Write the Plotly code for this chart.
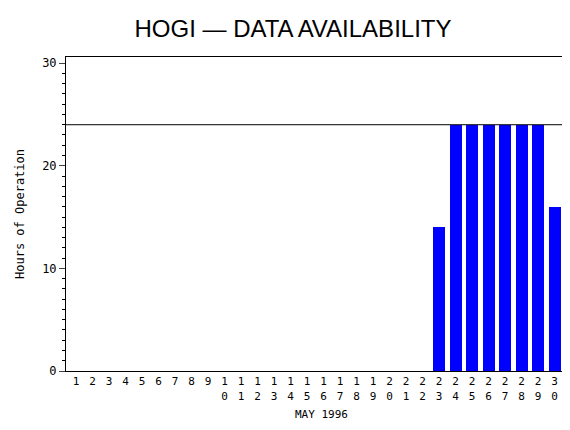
import plotly.graph_objects as go

days = list(range(1, 32))
hours = [0]*22 + [14, 24, 24, 24, 24, 24, 24, 16, 0]
tick_labels = ["<br>".join(str(d)) for d in days]
ref_line = 24

fig = go.Figure(go.Bar(x=days, y=hours, width=0.73, marker=dict(color="#0000ff", line=dict(width=0))))
fig.add_shape(type="line", xref="paper", x0=0, x1=1, yref="y", y0=ref_line, y1=ref_line,
              line=dict(color="black", width=1))
mono = "DejaVu Sans Mono"
fig.update_layout(
    width=570, height=430, margin=dict(l=58, r=1, t=49, b=67, autoexpand=False),
    plot_bgcolor="white", paper_bgcolor="white", showlegend=False,
    title=dict(text="HOGI — DATA AVAILABILITY", x=0.5, xanchor="center", y=0.952, yanchor="middle",
               automargin=False,
               font=dict(family="Liberation Sans", size=24, color="black")),
    xaxis=dict(range=[0.39, 31.36], tickmode="array", tickvals=days, ticktext=tick_labels,
               automargin=False,
               ticks="", showgrid=False, zeroline=False, showline=True, mirror=True,
               linecolor="black", linewidth=1, tickfont=dict(family=mono, size=11, color="black"),
               title=dict(text="MAY 1996", font=dict(family=mono, size=11, color="black"), standoff=8)),
    yaxis=dict(range=[0, 30.6], tickvals=[0, 10, 20, 30], ticks="outside", ticklen=6,
               automargin=False,
               minor=dict(dtick=1, ticks="outside", ticklen=3, tickcolor="black"),
               showgrid=False, zeroline=False, showline=True, mirror=True,
               linecolor="black", linewidth=1, tickfont=dict(family=mono, size=12, color="black"),
               title=dict(text="Hours of Operation", font=dict(family=mono, size=12, color="black"), standoff=14)),
    bargap=0,
)
fig.write_html("out.html")
